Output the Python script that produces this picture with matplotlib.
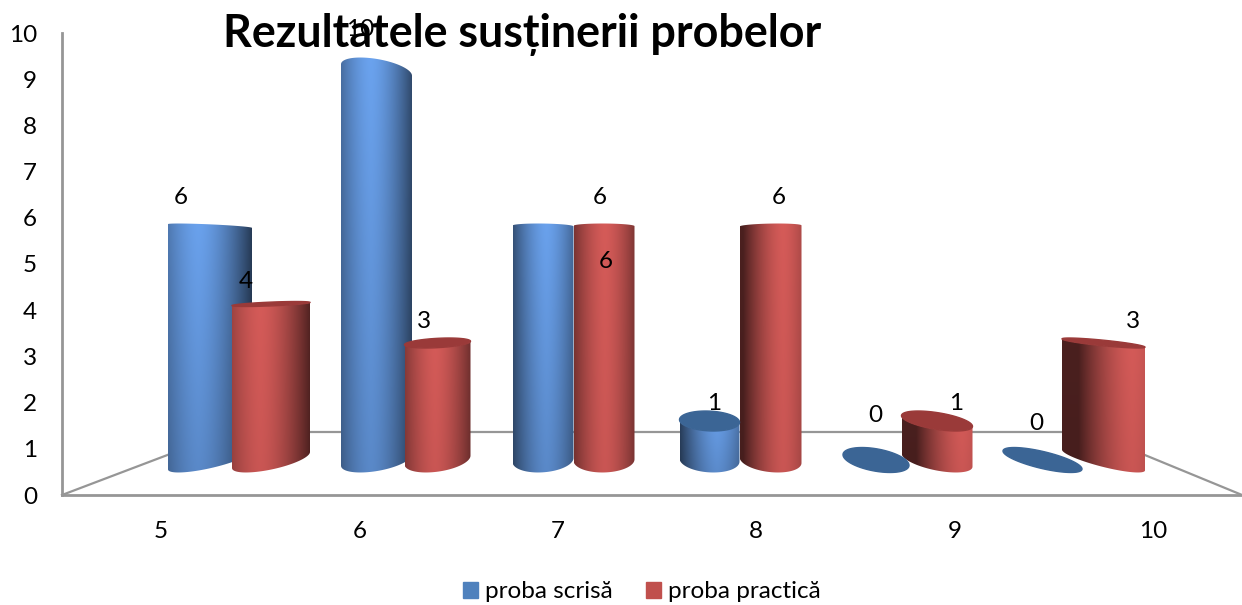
import numpy as np
import matplotlib
matplotlib.use('Agg')
import matplotlib.pyplot as plt
from matplotlib.patches import Patch, PathPatch
from matplotlib.path import Path

plt.rcParams['font.family'] = ['Lato', 'DejaVu Sans']

# Data
categories = ['5', '6', '7', '8', '9', '10']
proba_scrisa = [6, 10, 6, 1, 0, 0]
proba_practica = [4, 3, 6, 6, 1, 3]
y_ticks = [0, 1, 2, 3, 4, 5, 6, 7, 8, 9, 10]

# Look of the cylinders (pixels for widths and label offsets)
blue_widths = [84, 71, 61, 60, 66, 79]
red_widths = [78, 66, 61, 62, 71, 83]
blue_highlight = [0.36, 0.42, 0.55, 0.62, 0.7, 0.8]
red_highlight = [0.36, 0.45, 0.5, 0.7, 0.85, 0.85]
blue_label_off = [(-29, 29), (-16, 40), (63, -35), (5, 18), (-1, 44), (-6, 37)]
red_label_off = [(-25, 23), (-14, 22), (-4, 29), (8, 29), (19, 18), (29, 22)]

BLUE = np.array([0.38, 0.58, 0.85])
RED = np.array([0.82, 0.35, 0.34])
BLUE_TOP = '#3b6595'
RED_TOP = '#9a3a39'
GRAY = '#969696'

W, H = 1242, 605
FS = 17.5
fig = plt.figure(figsize=(W / 100, H / 100), dpi=100)

# Frame axes: the value axis and the category labels
ax = fig.add_axes([62 / W, (H - 495) / H, (W - 62) / W, (495 - 33) / H])
ax.set_xlim((62 - 161) / 198.4, (W - 161) / 198.4)
ax.set_ylim(0, 10)
ax.set_xticks(range(len(categories)))
ax.set_xticklabels(categories)
ax.set_yticks(y_ticks)
ax.tick_params(length=0, labelsize=FS, colors='black')
ax.tick_params(axis='x', pad=19)
ax.tick_params(axis='y', pad=18)
for s in ['top', 'right']:
    ax.spines[s].set_visible(False)
for s in ['left', 'bottom']:
    ax.spines[s].set_color(GRAY)
    ax.spines[s].set_linewidth(2)

# floor of the 3d box
floor_back = (495 - 432) / 46.2
ax.plot([-0.499, 0.338, 4.677, 5.449], [0, floor_back, floor_back, 0], color=GRAY, lw=1.6, clip_on=False)

# Bars axes: one category = 166.5 px, one value unit = 39 px, floor centre at 460 px
ax2 = fig.add_axes(ax.get_position(), facecolor='none')
ax2.axis('off')
CAT = 166.5
UNIT = 39.0
vanish = (635 - 210) / CAT
red_shift = 61 / CAT
xlim2 = ((62 - 210) / CAT, (W - 210) / CAT)
ylim2 = ((460 - 495) / UNIT, (460 - 33) / UNIT)


def ellipse_arc(cx, v, w, t):
    # tilted ellipse, its sides stay vertical so the cylinder outline is straight
    extent = 0.32 * abs(v - 5) / 5
    shear = -0.094 * (cx - vanish) * (5 - v) / 5
    h = np.sqrt(max(extent ** 2 - shear ** 2, 0.0002))
    return cx + w * np.cos(t), v + shear * np.cos(t) + h * np.sin(t)


def draw_cylinder(x, v, width, base, top_col, p, z):
    w = width / CAT / 2
    lower = np.linspace(np.pi, 2 * np.pi, 60)
    upper = np.linspace(0, np.pi, 60)
    if v == 0:
        xs, ys = ellipse_arc(x, 0, w, np.linspace(0, 2 * np.pi, 120))
        ax2.fill(xs, ys, color=top_col, zorder=z)
        return
    bx, by = ellipse_arc(x, 0, w, lower)
    # above eye level the top is seen from below, so only its far arc shows
    tx, ty = ellipse_arc(x, v, w, upper if v > 5 else lower[::-1])
    verts = np.column_stack([np.r_[bx, tx], np.r_[by, ty]])
    clip = PathPatch(Path(np.vstack([verts, verts[0]]), closed=True), transform=ax2.transData, fc='none', ec='none')
    ax2.add_patch(clip)

    u = np.linspace(0, 1, 200)
    d = np.minimum(np.abs(u - p), 0.65)
    shade = 1 - 0.65 * (d / 0.65) ** 1.6
    rows = np.linspace(1.1, 0.92, 60)[:, None] if base is BLUE else np.linspace(1.02, 0.96, 60)[:, None]
    img = np.clip(rows[:, :, None] * shade[None, :, None] * base[None, None, :], 0, 1)
    im = ax2.imshow(img, extent=[x - w, x + w, -0.5, v + 0.5], aspect='auto', origin='upper', zorder=z, interpolation='bilinear')
    im.set_clip_path(clip)

    if v < 5:
        xs, ys = ellipse_arc(x, v, w, np.linspace(0, 2 * np.pi, 120))
        ax2.fill(xs, ys, color=top_col, zorder=z + 0.1)


for i in range(len(categories)):
    # painter's order follows the view: red is in front on the left, blue on the right
    z_blue, z_red = (2, 3) if i < 3 else (3, 2)
    draw_cylinder(i, proba_scrisa[i], blue_widths[i], BLUE, BLUE_TOP, blue_highlight[i], z_blue)
    draw_cylinder(i + red_shift, proba_practica[i], red_widths[i], RED, RED_TOP, red_highlight[i], z_red)

ax2.set_xlim(*xlim2)
ax2.set_ylim(*ylim2)

# Value labels
for i in range(len(categories)):
    ax2.annotate(str(proba_scrisa[i]), (i, proba_scrisa[i]), xytext=blue_label_off[i], textcoords='offset pixels',
                 ha='center', va='center', fontsize=FS, zorder=6, annotation_clip=False)
    ax2.annotate(str(proba_practica[i]), (i + red_shift, proba_practica[i]), xytext=red_label_off[i],
                 textcoords='offset pixels', ha='center', va='center', fontsize=FS, zorder=6, annotation_clip=False)

fig.text(522 / W, 1 - 35 / H, 'Rezultatele susținerii probelor', ha='center', va='center',
         fontsize=32.3, fontweight='bold', color='black')

handles = [Patch(color='#4f81bd', label='proba scrisă'), Patch(color='#c0504d', label='proba practică')]
fig.legend(handles=handles, loc='center', bbox_to_anchor=(642 / W, 1 - 592 / H), ncol=2, frameon=False,
           fontsize=FS, handlelength=0.61, handleheight=0.61, handletextpad=0.29, columnspacing=1.35,
           borderpad=0, borderaxespad=0)

fig.savefig('out.png', dpi=100)
